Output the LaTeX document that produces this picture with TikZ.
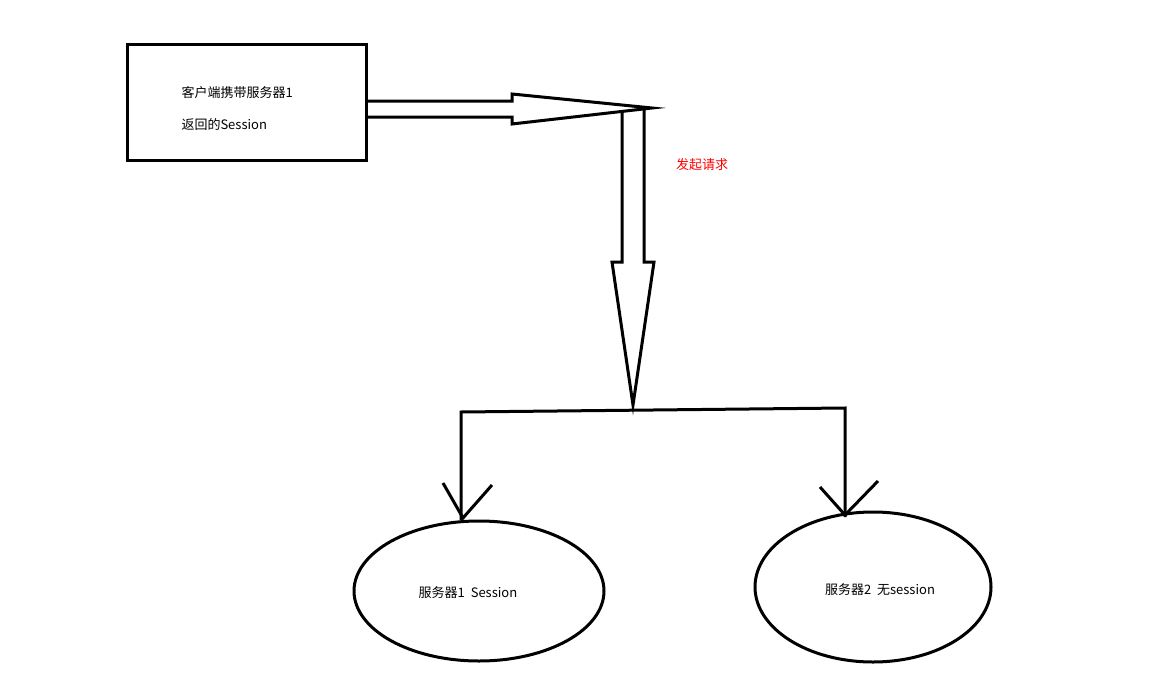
\documentclass[tikz,border=0pt]{standalone}
\usepackage{fontspec}
\setmainfont{Noto Sans CJK SC}
\begin{document}
\begin{tikzpicture}[x=1pt,y=-1pt,line width=3pt,
  lbl/.style={font=\fontsize{13}{16}\selectfont,inner sep=0pt}]
\useasboundingbox[fill=white] (0,0) rectangle (1168,688);
\node[draw,minimum width=239pt,minimum height=116pt,inner sep=0pt] (box) at (246.5,102) {};
\node[lbl,anchor=west,align=left] (t1) at (180,93) {客户端携带服务器1};
\node[lbl,anchor=west] (t2) at (180,125) {返回的Session};
\draw[line join=miter] (366,101) -- (512,101) -- (512,94) -- (652,108) -- (512,124) -- (512,117) -- (366,117);
\draw[line join=miter] (622,110) -- (622,262) -- (612,262) -- (633,405) -- (654,262) -- (644,262) -- (644,110);
\node[lbl,text=red] (req) at (702,165) {发起请求};
\coordinate (j) at (633,410);
\draw (461,520) -- (461,412) -- (845,408) -- (845,517);
\draw (443,483) -- (463,518) -- (492,485);
\draw (820,487) -- (845,515) -- (878,481);
\draw (479,591) ellipse [x radius=125, y radius=70];
\draw (873,587) ellipse [x radius=118, y radius=75];
\node[lbl] (s1) at (468,593) {服务器1\ \ Session};
\node[lbl] (s2) at (880,590) {服务器2\ \ 无session};
\end{tikzpicture}
\end{document}
